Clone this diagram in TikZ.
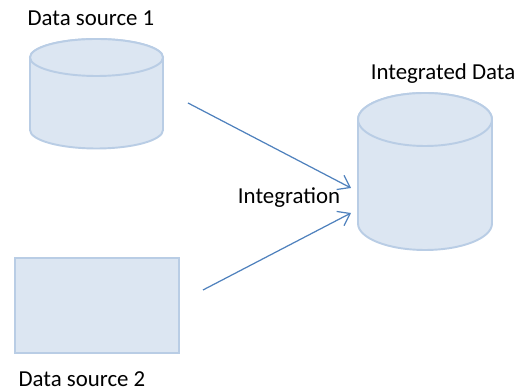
\documentclass[tikz,border=0pt]{standalone}
\usepackage{fontspec}
\setmainfont{Carlito}
\usetikzlibrary{arrows.meta}
\definecolor{dbfill}{HTML}{DCE6F2}
\definecolor{dbline}{HTML}{B9CDE5}
\definecolor{flowline}{HTML}{4F81BD}
\tikzset{
  dbshape/.style={fill=dbfill, draw=dbline, line width=1.1pt},
  flow/.style={draw=flowline, line width=0.7pt, -{Straight Barb[length=2.2mm, width=3.2mm]}},
  lbl/.style={font=\fontsize{13}{15}\selectfont, inner sep=0pt}
}
\begin{document}
\begin{tikzpicture}[x=0.2mm, y=0.2mm]
				\useasboundingbox (0, 0) rectangle (520, 392);

				% source 1: cylinder
				\draw[dbshape] (30, 334.5) -- (30, 262) arc (180:360:66.5 and 18.5) -- (163, 334.5) arc (0:180:66.5 and 18.5) -- cycle;
				\draw[dbshape] (96.5, 334.5) ellipse (66.5 and 18.5);
				\node[lbl] (src1) at (91, 374) {Data source 1};

				% source 2: box
				\draw[dbshape] (15, 39) rectangle (179, 134);
				\node[lbl] (src2) at (82, 13) {Data source 2};

				% target cylinder
				\draw[dbshape] (358, 272.5) -- (358, 168.5) arc (180:360:67 and 26.5) -- (492, 272.5) arc (0:180:67 and 26.5) -- cycle;
				\draw[dbshape] (425, 272.5) ellipse (67 and 26.5);
				\node[lbl] (target) at (443, 318) {Integrated Data};

				% arrows
				\coordinate (out1) at (188, 289);
				\coordinate (out2) at (203, 102);
				\coordinate (in1) at (351, 204);
				\coordinate (in2) at (351, 179);
				\draw[flow] (out1) -- (in1);
				\draw[flow] (out2) -- (in2);
				\node[lbl] (integ) at (289, 194) {Integration};
			\end{tikzpicture}
\end{document}
